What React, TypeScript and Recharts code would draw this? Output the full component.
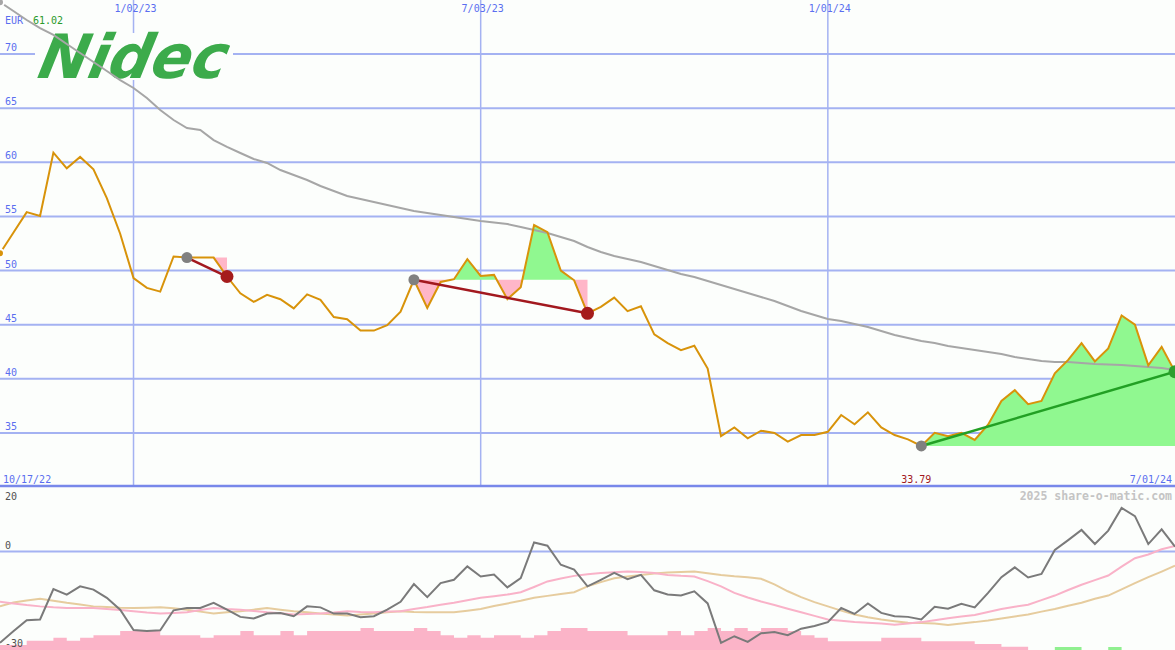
import React from 'react';
import {
  ComposedChart,
  Line,
  Area,
  XAxis,
  YAxis,
  CartesianGrid,
  ReferenceDot,
  ReferenceLine,
} from 'recharts';

// ---------------- data ----------------
const topDateIdx = [10, 36, 62];
const topDateLabels = ['1/02/23', '7/03/23', '1/01/24'];
const startLabel = '10/17/22';
const endLabel = '7/01/24';
const priceTicks = [35, 40, 45, 50, 55, 60, 65, 70];
const oscTicks = [-30, 0, 20];
const oscGrid = [0];
const currency = 'EUR';
const lastQuote = '61.02';
const watermark = '2025 share-o-matic.com';
const logoText = 'Nidec';

const price = [
  51.6, 53.5, 55.4, 55.05, 60.9, 59.45, 60.5, 59.35, 56.7, 53.4,
  49.3, 48.4, 48.05, 51.3, 51.2, 51.2, 51.2, 49.45, 47.9, 47.1,
  47.75, 47.35, 46.5, 47.8, 47.3, 45.7, 45.5, 44.45, 44.45, 44.95,
  46.2, 49.15, 46.55, 48.95, 49.2, 51.05, 49.5, 49.6, 47.35, 48.45,
  54.2, 53.55, 50.0, 49.1, 46.05, 46.65, 47.5, 46.25, 46.7, 44.1,
  43.3, 42.65, 43.05, 40.95, 34.7, 35.5, 34.5, 35.2, 35.0, 34.2,
  34.8, 34.8, 35.1, 36.65, 35.8, 36.9, 35.5, 34.8, 34.4, 33.79,
  35.0, 34.7, 35.0, 34.35, 35.75, 37.95, 38.95, 37.65, 37.95, 40.5,
  41.75, 43.3, 41.6, 42.8, 45.85, 45.0, 41.25, 42.95, 40.65,
];

const ma = [
  74.8, 73.98, 73.15, 72.41, 71.77, 70.93, 70.1, 69.27, 68.44, 67.6,
  66.87, 65.94, 64.84, 63.91, 63.17, 62.99, 62.06, 61.42, 60.86, 60.31,
  59.94, 59.29, 58.83, 58.37, 57.81, 57.35, 56.89, 56.61, 56.33, 56.06,
  55.78, 55.5, 55.32, 55.13, 54.95, 54.76, 54.58, 54.44, 54.3, 54.02,
  53.75, 53.47, 53.1, 52.73, 52.18, 51.71, 51.34, 51.07, 50.79, 50.42,
  50.05, 49.68, 49.4, 49.03, 48.66, 48.29, 47.93, 47.56, 47.19, 46.72,
  46.26, 45.89, 45.52, 45.34, 45.06, 44.78, 44.41, 44.04, 43.77, 43.49,
  43.3, 43.03, 42.84, 42.66, 42.47, 42.29, 42.01, 41.83, 41.64, 41.55,
  41.55, 41.46, 41.36, 41.32, 41.27, 41.18, 41.09, 40.99, 40.81,
];

const tradeStart = [14, 31, 69];
const tradeEnd = [17, 44, 88];

const osc = [
  -27.8, -24.3, -20.9, -20.7, -11.4, -13.1, -10.6, -11.6, -14.1, -17.7,
  -23.9, -24.2, -24.0, -17.9, -17.2, -17.2, -15.6, -17.7, -19.9, -20.4,
  -18.9, -18.7, -19.7, -16.7, -17.0, -18.9, -18.9, -20.0, -19.7, -17.7,
  -15.3, -9.9, -13.9, -9.6, -8.6, -4.5, -7.6, -7.0, -10.9, -8.1,
  2.8, 1.8, -4.0, -5.5, -10.6, -8.6, -6.5, -8.4, -7.1, -11.8,
  -13.1, -13.4, -12.1, -15.8, -27.8, -25.8, -27.5, -24.9, -24.5, -25.5,
  -23.5, -22.7, -21.5, -17.2, -19.0, -15.8, -18.7, -19.7, -19.9, -20.7,
  -16.8, -17.4, -15.9, -17.0, -12.6, -7.8, -4.8, -7.9, -6.8, 0.5,
  3.5, 6.6, 2.3, 6.4, 13.3, 10.8, 2.3, 6.8, 1.5,
];

const oscFast = [
  -15.3, -15.8, -16.3, -16.7, -17.0, -17.2, -17.2, -17.2, -17.5, -17.8,
  -18.2, -18.6, -18.9, -18.7, -18.5, -17.8, -17.2, -17.5, -17.7, -18.1,
  -18.5, -18.8, -19.2, -19.0, -18.9, -18.6, -18.2, -18.4, -18.5, -18.3,
  -18.2, -17.5, -16.9, -16.2, -15.6, -14.8, -14.1, -13.6, -13.1, -12.4,
  -10.8, -9.1, -8.2, -7.4, -6.9, -6.5, -6.3, -6.1, -6.2, -6.5,
  -7.1, -7.4, -7.6, -9.0, -10.6, -12.6, -14.0, -15.2, -16.3, -17.4,
  -18.5, -19.6, -20.7, -21.1, -21.5, -21.7, -21.9, -22.3, -21.9, -21.5,
  -20.9, -20.3, -19.8, -19.3, -18.4, -17.5, -16.8, -16.2, -14.8, -13.4,
  -11.7, -10.1, -8.7, -7.3, -4.6, -2.0, -0.9, 0.7, 1.7,
];

const oscSlow = [
  -16.7, -15.5, -14.9, -14.4, -15.0, -15.6, -16.1, -16.7, -16.9, -17.1,
  -17.2, -17.1, -17.0, -17.3, -17.7, -18.3, -18.9, -18.5, -18.2, -17.7,
  -17.2, -17.7, -18.2, -18.5, -18.9, -19.2, -19.5, -19.2, -18.9, -18.5,
  -18.2, -18.4, -18.5, -18.5, -18.5, -18.0, -17.5, -16.6, -15.8, -15.0,
  -14.1, -13.5, -12.9, -12.4, -10.6, -9.3, -8.1, -7.6, -7.1, -6.7,
  -6.4, -6.2, -6.1, -6.6, -7.1, -7.5, -7.8, -8.3, -10.0, -12.1,
  -13.9, -15.4, -16.7, -18.0, -19.2, -20.0, -20.7, -21.2, -21.7, -21.8,
  -21.9, -22.4, -21.9, -21.5, -21.0, -20.4, -19.8, -19.2, -18.3, -17.5,
  -16.5, -15.6, -14.4, -13.4, -11.5, -9.6, -7.8, -6.1, -4.3,
];

const volDown = [
  1.5, 1.5, 2.8, 2.8, 3.7, 2.8, 3.7, 4.5, 4.5, 5.8,
  5.8, 5.8, 4.5, 4.5, 4.5, 3.7, 4.5, 4.5, 5.8, 4.5,
  4.5, 5.8, 4.5, 5.8, 5.8, 5.8, 5.8, 6.7, 5.8, 5.8,
  5.8, 6.7, 5.8, 4.5, 3.7, 4.5, 3.7, 4.5, 4.5, 3.7,
  4.5, 5.8, 6.7, 6.7, 5.8, 5.8, 5.8, 4.5, 4.5, 4.5,
  5.8, 4.5, 5.8, 6.7, 5.8, 6.7, 5.8, 6.7, 6.7, 5.8,
  4.5, 3.7, 2.7, 2.7, 2.7, 2.7, 3.7, 3.7, 3.7, 2.7,
  2.7, 2.7, 2.7, 1.8, 1.8, 1.0, 1.0, 0, 0, 0,
  0, 0, 0, 0, 0, 0, 0, 0, 0,
];

const volUp = [
  0, 0, 0, 0, 0, 0, 0, 0, 0, 0,
  0, 0, 0, 0, 0, 0, 0, 0, 0, 0,
  0, 0, 0, 0, 0, 0, 0, 0, 0, 0,
  0, 0, 0, 0, 0, 0, 0, 0, 0, 0,
  0, 0, 0, 0, 0, 0, 0, 0, 0, 0,
  0, 0, 0, 0, 0, 0, 0, 0, 0, 0,
  0, 0, 0, 0, 0, 0, 0, 0, 0, 0,
  0, 0, 0, 0, 0, 0, 0, 0, 0, 0.9,
  0.9, 0, 0, 0.9, 0, 0, 0, 0, 0,
];

// ---------------- styles ----------------
const W = 1175;
const TOP_H = 487;
const BG = '#fcfefc';
const MONO = '"DejaVu Sans Mono", "Liberation Mono", monospace';
const BLUE_TXT = '#5a6ef0';
const GRID = '#a4b2f2';
const LAST = price.length - 1;
const LOSS = '#a2181e';
const WIN = '#22a024';

const minIdx = price.indexOf(Math.min(...price));

// ---------------- derived rows ----------------
type Row = Record<string, any>;
const baseRows: Row[] = price.map((p, i) => ({ x: i, price: p, ma: ma[i] }));
const crossRows: Row[] = [];
tradeStart.forEach((s, k) => {
  const e = tradeEnd[k];
  const base = price[s];
  for (let i = s; i <= e; i++) {
    baseRows[i][`up${k}`] = [base, Math.max(price[i], base)];
    baseRows[i][`dn${k}`] = [Math.min(price[i], base), base];
    if (i < e) {
      const a = price[i] - base;
      const b = price[i + 1] - base;
      if (a * b < 0) {
        const t = a / (a - b);
        crossRows.push({ x: i + t, price: base, [`up${k}`]: [base, base], [`dn${k}`]: [base, base] });
      }
    }
  }
  baseRows[s][`tl${k}`] = price[s];
  baseRows[e][`tl${k}`] = price[e];
});
const topRows = [...baseRows, ...crossRows].sort((a, b) => a.x - b.x);

const lowRows = osc.map((v, i) => ({
  x: i,
  osc: v,
  fast: oscFast[i],
  slow: oscSlow[i],
  vd: [oscTicks[0], oscTicks[0] + volDown[i]],
  vu: [oscTicks[0], oscTicks[0] + volUp[i]],
}));

// ---------------- ticks ----------------
const PriceTick = (props: any) => (
  <text x={5} y={props.y - 3} fill={BLUE_TXT} fontSize={10} fontFamily={MONO}>
    {props.payload.value}
  </text>
);

const TopDateTick = (props: any) => {
  const idx = topDateIdx.indexOf(props.payload.value);
  return (
    <text x={props.x + 2} y={12} fill={BLUE_TXT} fontSize={10} fontFamily={MONO} textAnchor="middle">
      {topDateLabels[idx]}
    </text>
  );
};

const BottomTick = (props: any) => {
  const v = props.payload.value;
  if (v === 0)
    return (
      <text x={3} y={483} fill={BLUE_TXT} fontSize={10} fontFamily={MONO} textAnchor="start">
        {startLabel}
      </text>
    );
  if (v === LAST)
    return (
      <text x={W - 3} y={483} fill={BLUE_TXT} fontSize={10} fontFamily={MONO} textAnchor="end">
        {endLabel}
      </text>
    );
  return (
    <text x={props.x - 5} y={483} fill={LOSS} fontSize={10} fontFamily={MONO} textAnchor="middle">
      {price[minIdx].toFixed(2)}
    </text>
  );
};

const OscTick = (props: any) => {
  const v = props.payload.value;
  return (
    <text x={5} y={v === 20 ? props.y + 14 : props.y - 3} fill="#505050" fontSize={10} fontFamily={MONO}>
      {v}
    </text>
  );
};

export default function App() {
  return (
    <div style={{ position: 'absolute', left: 0, top: 0, width: W, height: 650, background: BG, overflow: 'hidden' }}>
      <div style={{ position: 'absolute', left: 0, top: 0 }}>
        <ComposedChart width={W} height={TOP_H} data={topRows} margin={{ top: 0, right: 0, bottom: 0, left: 0 }}>
          <XAxis
            dataKey="x"
            type="number"
            domain={[0, LAST]}
            orientation="top"
            mirror
            ticks={topDateIdx}
            interval={0}
            axisLine={false}
            tickLine={false}
            tick={TopDateTick}
            allowDataOverflow
          />
          <XAxis
            xAxisId="b"
            dataKey="x"
            type="number"
            domain={[0, LAST]}
            orientation="bottom"
            mirror
            ticks={[0, minIdx, LAST]}
            interval={0}
            axisLine={false}
            tickLine={false}
            tick={BottomTick}
            allowDataOverflow
          />
          <YAxis
            type="number"
            domain={[30, 75]}
            ticks={priceTicks}
            interval={0}
            mirror
            axisLine={false}
            tickLine={false}
            tick={PriceTick}
            allowDataOverflow
          />
          <CartesianGrid vertical={false} horizontalValues={priceTicks} stroke={GRID} strokeWidth={2} />
          <CartesianGrid horizontal={false} verticalValues={topDateIdx} stroke={GRID} strokeWidth={1.5} />
          <g>
            <rect x={35} y={33} width={198} height={47} fill={BG} />
            <text
              transform="translate(36,78) skewX(-12)"
              x={0}
              y={0}
              fontFamily='"DejaVu Sans", sans-serif'
              fontWeight="bold"
              fontStyle="italic"
              fontSize={61}
              fill="#3cab4b"
              textLength={188}
              lengthAdjust="spacingAndGlyphs"
            >
              {logoText}
            </text>
            <text x={5} y={24} fontFamily={MONO} fontSize={10} fill={BLUE_TXT}>
              {currency}
            </text>
            <text x={33} y={24} fontFamily={MONO} fontSize={10} fill="#2a9a2a">
              {lastQuote}
            </text>
          </g>
          {tradeStart.map((_, k) => (
            <Area
              key={`up${k}`}
              dataKey={`up${k}`}
              type="linear"
              stroke="none"
              fill="#90f890"
              fillOpacity={1}
              isAnimationActive={false}
              activeDot={false}
            />
          ))}
          {tradeStart.map((_, k) => (
            <Area
              key={`dn${k}`}
              dataKey={`dn${k}`}
              type="linear"
              stroke="none"
              fill="#ffb6c8"
              fillOpacity={1}
              isAnimationActive={false}
              activeDot={false}
            />
          ))}
          <Line dataKey="ma" type="linear" stroke="#a6a6a6" strokeWidth={2} dot={false} connectNulls isAnimationActive={false} />
          <Line dataKey="price" type="linear" stroke="#d8930a" strokeWidth={2} dot={false} isAnimationActive={false} />
          {tradeStart.map((s, k) => (
            <Line
              key={`tl${k}`}
              dataKey={`tl${k}`}
              type="linear"
              stroke={price[tradeEnd[k]] >= price[s] ? WIN : LOSS}
              strokeWidth={2.5}
              dot={false}
              connectNulls
              isAnimationActive={false}
            />
          ))}
          {tradeStart.map((s, k) => (
            <ReferenceDot key={`s${k}`} x={s} y={price[s]} r={5.5} fill="#808080" stroke="none" />
          ))}
          {tradeEnd.map((e, k) => (
            <ReferenceDot
              key={`e${k}`}
              x={e}
              y={price[e]}
              r={6.5}
              fill={price[e] >= price[tradeStart[k]] ? '#2e9e2e' : '#a51c1c'}
              stroke="none"
            />
          ))}
        </ComposedChart>
      </div>
      <div style={{ position: 'absolute', left: 0, top: 480 }}>
        <ComposedChart width={W} height={170} data={lowRows} margin={{ top: 6, right: 0, bottom: 0, left: 0 }}>
          <XAxis
            dataKey="x"
            type="number"
            domain={[0, LAST]}
            ticks={topDateIdx}
            interval={0}
            mirror
            axisLine={false}
            tickLine={false}
            tick={false}
            allowDataOverflow
          />
          <YAxis
            type="number"
            domain={[-30, 20]}
            ticks={oscTicks}
            interval={0}
            mirror
            axisLine={false}
            tickLine={false}
            tick={OscTick}
            allowDataOverflow
          />
          <CartesianGrid horizontal={false} verticalValues={topDateIdx} stroke={GRID} strokeWidth={1.5} />
          <CartesianGrid vertical={false} horizontalValues={oscGrid} stroke={GRID} strokeWidth={2} />
          <Area dataKey="vd" type="stepAfter" stroke="none" fill="#fbb4c8" fillOpacity={1} isAnimationActive={false} activeDot={false} />
          <Area dataKey="vu" type="stepAfter" stroke="none" fill="#90f090" fillOpacity={1} isAnimationActive={false} activeDot={false} />
          <Line dataKey="slow" type="linear" stroke="#e6cc9e" strokeWidth={2} dot={false} isAnimationActive={false} />
          <Line dataKey="fast" type="linear" stroke="#f9b2c8" strokeWidth={2} dot={false} isAnimationActive={false} />
          <Line dataKey="osc" type="linear" stroke="#7a7a7a" strokeWidth={2} dot={false} isAnimationActive={false} />
          <ReferenceLine y={20} stroke="#7888ea" strokeWidth={2.5} />
          <text x={W - 3} y={20} textAnchor="end" fontFamily={MONO} fontWeight="bold" fontSize={11.5} fill="#c4c4c4">
            {watermark}
          </text>
        </ComposedChart>
      </div>
    </div>
  );
}
